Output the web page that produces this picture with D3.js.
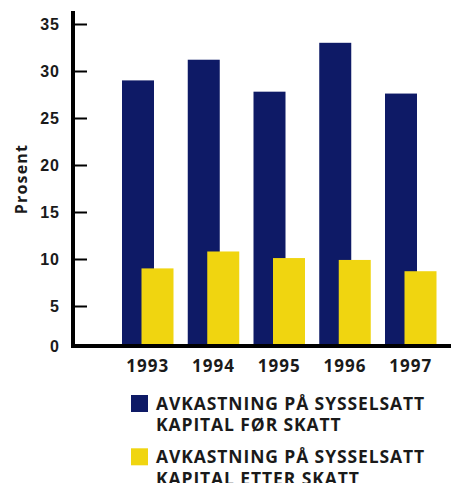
<!DOCTYPE html>
<html>
<head>
<meta charset="utf-8">
<script src="https://cdn.jsdelivr.net/npm/d3@7"></script>
<style>
  body { margin: 0; background: #fff; }
  svg { display: block; font-family: "Open Sans", "DejaVu Sans", sans-serif; font-weight: bold; }
</style>
</head>
<body>
<svg id="chart" width="451" height="483"></svg>
<script>
// data
const years = ["1993", "1994", "1995", "1996", "1997"];
const forSkatt = [29.0, 31.2, 27.8, 33.0, 27.6];
const etterSkatt = [9.0, 10.8, 10.1, 9.9, 8.7];
const yTicks = [5, 10, 15, 20, 25, 30, 35];
const legendLabels = [
    ["AVKASTNING PÅ SYSSELSATT", "KAPITAL FØR SKATT"],
    ["AVKASTNING PÅ SYSSELSATT", "KAPITAL ETTER SKATT"]
];
const colors = ["#0e1a66", "#f0d510"];

const svg = d3.select("#chart");
const width = 451, height = 483;
const axisX = 73, axisY = 346;

const x = d3.scaleBand()
    .domain(years)
    .range([122, 122 + 5 * 65.75])
    .paddingInner(0).paddingOuter(0);

const y = d3.scaleLinear()
    .domain([0, 35])
    .range([353, 24]);

const barW = 32, offset = 19.5;

// bars: navy first, yellow overlapping on top
svg.append("g")
    .selectAll("rect")
    .data(years)
    .join("rect")
    .attr("x", d => x(d))
    .attr("y", (d, i) => y(forSkatt[i]))
    .attr("width", barW)
    .attr("height", (d, i) => axisY - y(forSkatt[i]))
    .attr("fill", colors[0]);

svg.append("g")
    .selectAll("rect")
    .data(years)
    .join("rect")
    .attr("x", d => x(d) + offset)
    .attr("y", (d, i) => y(etterSkatt[i]))
    .attr("width", barW)
    .attr("height", (d, i) => axisY - y(etterSkatt[i]))
    .attr("fill", colors[1]);

// y axis (ticks point inward)
const yAxis = svg.append("g")
    .attr("transform", `translate(${axisX},0)`)
    .call(d3.axisRight(y).tickValues(yTicks).tickSize(14).tickFormat(""))
    .call(g => g.select(".domain").remove())
    .call(g => g.selectAll(".tick line").attr("stroke", "#000").attr("stroke-width", 2));

yAxis.selectAll(".ylab")
    .data(yTicks.concat([0]))
    .join("text")
    .attr("class", "ylab")
    .attr("x", -13)
    .attr("y", d => d === 0 ? axisY : y(d))
    .attr("dy", "0.36em")
    .attr("text-anchor", "end")
    .attr("font-size", 16)
    .attr("letter-spacing", 1)
    .attr("fill", "#1a1a1a")
    .text(d => d);

svg.append("line")
    .attr("x1", axisX).attr("x2", axisX)
    .attr("y1", 11).attr("y2", axisY + 2)
    .attr("stroke", "#000").attr("stroke-width", 4);

svg.append("line")
    .attr("x1", axisX - 2).attr("x2", width)
    .attr("y1", axisY).attr("y2", axisY)
    .attr("stroke", "#000").attr("stroke-width", 4);

// year labels
svg.append("g")
    .selectAll("text")
    .data(years)
    .join("text")
    .attr("x", d => x(d) + (offset + barW) / 2)
    .attr("y", 371.5)
    .attr("text-anchor", "middle")
    .attr("font-size", 17)
    .attr("letter-spacing", 1)
    .attr("fill", "#1a1a1a")
    .text(d => d);

// y title
svg.append("text")
    .attr("transform", "translate(27,179) rotate(-90)")
    .attr("text-anchor", "middle")
    .attr("font-size", 16)
    .attr("letter-spacing", 1.2)
    .attr("fill", "#1a1a1a")
    .text("Prosent");

// legend
const legend = svg.append("g")
    .selectAll("g")
    .data(legendLabels)
    .join("g")
    .attr("transform", (d, i) => `translate(131,${395 + i * 53.3})`);

legend.append("rect")
    .attr("width", 17).attr("height", 17)
    .attr("fill", (d, i) => colors[i]);

legend.append("text")
    .attr("x", 25)
    .attr("font-size", 17.5)
    .attr("letter-spacing", 0.9)
    .attr("fill", "#1a1a1a")
    .selectAll("tspan")
    .data(d => d)
    .join("tspan")
    .attr("x", 25)
    .attr("y", (d, i) => 15 + i * 21.3)
    .text(d => d);
</script>
</body>
</html>
